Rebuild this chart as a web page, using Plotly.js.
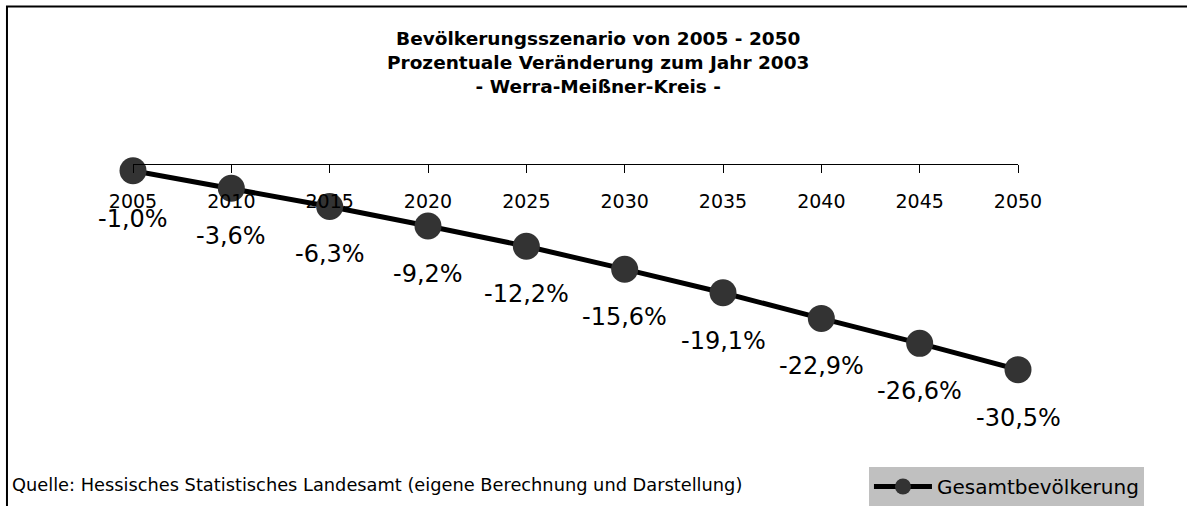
<!DOCTYPE html>
<html>
<head>
<meta charset="utf-8">
<script src="https://cdn.plot.ly/plotly-3.0.1.min.js"></script>
<style>html,body{margin:0;padding:0;background:#fff;}#chart{width:1187px;height:506px;}</style>
</head>
<body>
<div id="chart"></div>
<script>
const years = [2005, 2010, 2015, 2020, 2025, 2030, 2035, 2040, 2045, 2050];
const change = [-1.0, -3.6, -6.3, -9.2, -12.2, -15.6, -19.1, -22.9, -26.6, -30.5];
const seriesName = 'Gesamtbevölkerung';
const titleLines = ['Bevölkerungsszenario von 2005 - 2050', 'Prozentuale Veränderung zum Jahr 2003', '- Werra-Meißner-Kreis -'];
const sourceText = 'Quelle: Hessisches Statistisches Landesamt (eigene Berechnung und Darstellung)';

const fmt = v => v.toFixed(1).replace('.', ',') + '%';
const FONT = 'DejaVu Sans, Liberation Sans, sans-serif';

const trace = {
  x: years, y: change, type: 'scatter', mode: 'lines+markers', name: seriesName,
  line: {color: '#000000', width: 5},
  marker: {color: '#333333', size: 27, line: {width: 0}},
  cliponaxis: false, hoverinfo: 'skip'
};

const labels = years.map((yr, i) => ({
  x: yr, y: change[i], xref: 'x', yref: 'y', text: fmt(change[i]), showarrow: false,
  yshift: -48, font: {family: FONT, size: 24, color: '#000'}
}));
labels.push({
  xref: 'paper', yref: 'paper', x: -0.139, y: -0.356, xanchor: 'left', yanchor: 'middle',
  text: sourceText, showarrow: false, font: {family: FONT, size: 17.8, color: '#000'}
});

const layout = {
  width: 1187, height: 506,
  margin: {l: 133, r: 169, t: 164, b: 106, autoexpand: false},
  paper_bgcolor: '#ffffff', plot_bgcolor: '#ffffff',
  font: {family: FONT, color: '#000'},
  title: {
    text: titleLines.join('<br>'), xref: 'container', yref: 'container',
    x: 0.504, xanchor: 'center', y: 1 - 45/506, yanchor: 'top',
    font: {family: FONT, size: 18.5, color: '#000', weight: 'bold'}
  },
  xaxis: {
    range: [2005, 2050], tickvals: years, ticktext: years.map(String),
    anchor: 'free', position: 1, side: 'bottom',
    showline: true, linecolor: '#000', linewidth: 1,
    ticks: 'outside', ticklen: 8, tickcolor: '#000', tickwidth: 1,
    showgrid: false, zeroline: false, ticklabelstandoff: 12,
    tickfont: {family: FONT, size: 19, color: '#000'}
  },
  yaxis: {range: [-35, 0], visible: false, showgrid: false, zeroline: false},
  showlegend: true,
  legend: {
    x: 0.8316, y: -0.284, xanchor: 'left', yanchor: 'top', xref: 'paper', yref: 'paper',
    bgcolor: '#c0c0c0', borderwidth: 0, itemwidth: 58,
    font: {family: FONT, size: 20, color: '#000'}
  },
  annotations: labels,
  shapes: [{
    type: 'rect', xref: 'paper', yref: 'paper',
    x0: -0.1424, x1: 1.5, y0: -1, y1: 1 + (164 - 6.5) / 236,
    line: {color: '#000', width: 2}, fillcolor: 'rgba(0,0,0,0)', layer: 'below'
  }]
};

Plotly.newPlot('chart', [trace], layout, {displayModeBar: false, staticPlot: true});
</script>
</body>
</html>
